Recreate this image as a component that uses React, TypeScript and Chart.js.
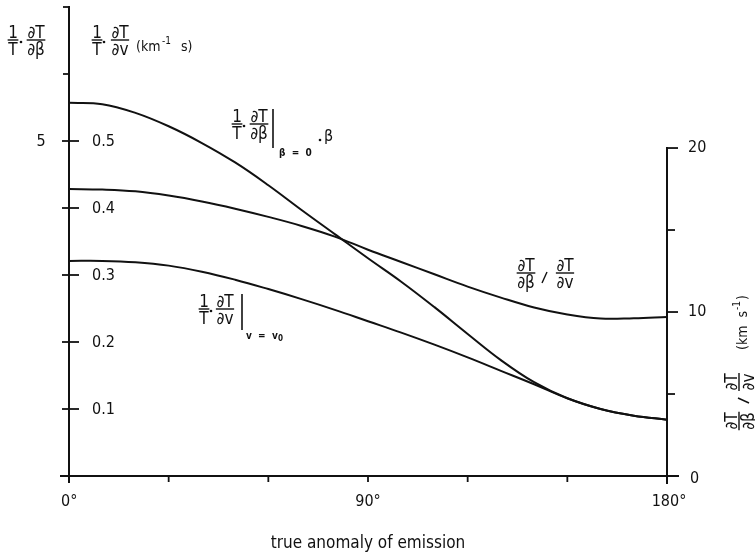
import React, { useEffect, useRef } from "react";
import { Chart, registerables } from "chart.js";
Chart.register(...registerables);

// true anomaly of emission (degrees)
const anomalyDeg = [0, 10, 20, 30, 40, 50, 60, 70, 80, 90, 100, 110, 120, 130, 140, 150, 160, 170, 180];
// (1/T)(dT/dbeta)|beta=0 * beta  (outer left scale, 0..7)
const betaSensitivity = [5.57, 5.55, 5.42, 5.22, 4.97, 4.68, 4.34, 3.97, 3.61, 3.25, 2.9, 2.52, 2.12, 1.73, 1.4, 1.16, 1.0, 0.9, 0.84];
// (1/T)(dT/dv)|v=v0  (inner left scale, km^-1 s)
const velocitySensitivity = [0.321, 0.321, 0.319, 0.314, 0.305, 0.293, 0.279, 0.264, 0.248, 0.231, 0.214, 0.196, 0.177, 0.157, 0.137, 0.116, 0.1, 0.09, 0.084];
// (dT/dbeta)/(dT/dv)  (right scale, km s^-1)
const ratioSeries = [17.5, 17.47, 17.36, 17.1, 16.74, 16.3, 15.8, 15.25, 14.6, 13.8, 13.05, 12.3, 11.55, 10.88, 10.28, 9.85, 9.6, 9.62, 9.7];

const xTicks = [0, 30, 60, 90, 120, 150, 180];
const xTickLabels: Record<number, string> = { 0: "0°", 90: "90°", 180: "180°" };
const leftInnerTicks = [0.1, 0.2, 0.3, 0.4, 0.5];
const leftBracketTicks = [0.6, 0.7];
const leftOuterTicks = [5];
const rightTicks = [0, 5, 10, 15, 20];
const rightLabelTicks = [0, 10, 20];

const FONT = '"DejaVu Sans Condensed", "DejaVu Sans", sans-serif';
const INK = "#111";
const FS = 17;

function frac(ctx: CanvasRenderingContext2D, num: string, den: string, cx: number, ly: number, size: number) {
  ctx.font = `${size}px ${FONT}`;
  const w = Math.max(ctx.measureText(num).width, ctx.measureText(den).width) + 1;
  ctx.textAlign = "center";
  ctx.textBaseline = "alphabetic";
  ctx.fillText(num, cx, ly - 2.5);
  ctx.fillText(den, cx, ly + 2 + size * 0.74);
  ctx.lineWidth = 1.4;
  ctx.beginPath();
  ctx.moveTo(cx - w / 2, ly);
  ctx.lineTo(cx + w / 2, ly);
  ctx.stroke();
}

function dot(ctx: CanvasRenderingContext2D, x: number, y: number) {
  ctx.beginPath();
  ctx.arc(x, y, 1.3, 0, Math.PI * 2);
  ctx.fill();
}

function line(ctx: CanvasRenderingContext2D, x1: number, y1: number, x2: number, y2: number) {
  ctx.beginPath();
  ctx.moveTo(x1, y1);
  ctx.lineTo(x2, y2);
  ctx.stroke();
}

const axesPlugin = {
  id: "paperAxes",
  afterDraw(chart: any) {
    const ctx: CanvasRenderingContext2D = chart.ctx;
    const sx = chart.scales.x;
    const yIn = chart.scales.yIn;
    const yOut = chart.scales.yOut;
    const yR = chart.scales.yR;
    const xL = sx.getPixelForValue(0);
    const xR = sx.getPixelForValue(180);
    const yB = yIn.getPixelForValue(0);
    ctx.save();
    ctx.strokeStyle = INK;
    ctx.fillStyle = INK;
    ctx.lineCap = "butt";

    // axis lines
    ctx.lineWidth = 2;
    line(ctx, xL, yIn.getPixelForValue(0.7) - 1, xL, yB + 7);
    line(ctx, xL - 9, yB, xR + 12, yB);
    line(ctx, xR, yR.getPixelForValue(20) - 1, xR, yB + 8);

    // left axis ticks
    ctx.lineWidth = 1.8;
    leftBracketTicks.forEach((v) => {
      const y = yIn.getPixelForValue(v);
      line(ctx, xL - 6, y, xL, y);
    });
    leftInnerTicks.forEach((v) => {
      const y = yIn.getPixelForValue(v);
      line(ctx, xL - 7, y, xL + 10, y);
    });
    ctx.font = `16px ${FONT}`;
    ctx.textAlign = "left";
    ctx.textBaseline = "middle";
    leftInnerTicks.forEach((v) => {
      const y = yIn.getPixelForValue(v);
      ctx.fillText(v.toFixed(1), xL + 23, y + 1);
    });
    ctx.textAlign = "center";
    leftOuterTicks.forEach((v) => {
      const y = yOut.getPixelForValue(v);
      ctx.fillText(String(v), 41, y + 1);
    });

    // x ticks
    xTicks.forEach((d) => {
      const x = sx.getPixelForValue(d);
      line(ctx, x, yB, x, yB + 6);
      const lab = xTickLabels[d];
      if (lab) {
        ctx.textAlign = d === 0 ? "left" : "center";
        ctx.fillText(lab, d === 0 ? x - 8 : d === 180 ? x + 2 : x, yB + 26);
      }
    });

    // right ticks
    rightTicks.forEach((v) => {
      const y = yR.getPixelForValue(v);
      if (v === 0) line(ctx, xR - 7, y, xR + 10, y);
      else line(ctx, xR, y, xR + (v % 10 === 0 ? 11 : 8), y);
    });
    ctx.textAlign = "left";
    rightLabelTicks.forEach((v) => {
      const y = yR.getPixelForValue(v);
      ctx.fillText(String(v), xR + (v === 0 ? 23 : 21), y + (v === 0 ? 3 : 0));
    });

    // x title
    ctx.font = `17px ${FONT}`;
    ctx.textAlign = "center";
    ctx.fillText("true anomaly of emission", 368, 544);

    // left titles
    frac(ctx, "1", "T", 13, 40, FS);
    dot(ctx, 21, 42);
    frac(ctx, "∂T", "∂β", 36, 40, FS);
    frac(ctx, "1", "T", 97, 40, FS);
    dot(ctx, 104, 42);
    frac(ctx, "∂T", "∂v", 120, 40, FS);
    ctx.font = `14px ${FONT}`;
    ctx.textAlign = "left";
    ctx.textBaseline = "middle";
    ctx.fillText("(km", 136, 47);
    ctx.font = `10px ${FONT}`;
    ctx.fillText("-1", 162, 41);
    ctx.font = `14px ${FONT}`;
    ctx.fillText("s)", 181, 47);

    // annotation A
    frac(ctx, "1", "T", 237, 124, FS);
    dot(ctx, 244, 126);
    frac(ctx, "∂T", "∂β", 259, 124, FS);
    ctx.lineWidth = 1.6;
    line(ctx, 273, 109, 273, 148);
    ctx.font = `bold 10px ${FONT}`;
    ctx.textAlign = "left";
    ctx.textBaseline = "middle";
    ctx.fillText("β  =  0", 279, 153);
    dot(ctx, 320, 140);
    ctx.font = `16px ${FONT}`;
    ctx.fillText("β", 324, 137);

    // annotation B
    frac(ctx, "∂T", "∂β", 526, 273, FS);
    ctx.lineWidth = 1.4;
    line(ctx, 542, 283, 547, 272);
    frac(ctx, "∂T", "∂v", 565, 273, FS);

    // annotation C
    frac(ctx, "1", "T", 204, 309, FS);
    dot(ctx, 211, 311);
    frac(ctx, "∂T", "∂v", 225, 309, FS);
    ctx.lineWidth = 1.6;
    line(ctx, 242, 294, 242, 330);
    ctx.font = `bold 10px ${FONT}`;
    ctx.textAlign = "left";
    ctx.textBaseline = "middle";
    ctx.fillText("v  =  v", 246, 336);
    ctx.font = `bold 8px ${FONT}`;
    ctx.fillText("0", 278, 339);

    // right rotated title
    ctx.save();
    ctx.translate(739, 434);
    ctx.rotate(-Math.PI / 2);
    frac(ctx, "∂T", "∂β", 13, 0, FS);
    ctx.lineWidth = 1.4;
    line(ctx, 31, 10, 36, -1);
    frac(ctx, "∂T", "∂v", 52, 0, FS);
    ctx.font = `14px ${FONT}`;
    ctx.textAlign = "left";
    ctx.textBaseline = "middle";
    const base = "(km  s";
    ctx.fillText(base, 84, 4);
    const w1 = ctx.measureText(base).width;
    ctx.font = `10px ${FONT}`;
    ctx.fillText("-1", 84 + w1 + 1, -2);
    const w2 = ctx.measureText("-1").width;
    ctx.font = `14px ${FONT}`;
    ctx.fillText(")", 84 + w1 + w2 + 2, 4);
    ctx.restore();

    ctx.restore();
  },
};

export default function App() {
  const ref = useRef<HTMLCanvasElement | null>(null);
  useEffect(() => {
    if (!ref.current) return;
    const ds = (data: number[], axis: string) => ({
      data: anomalyDeg.map((d, i) => ({ x: d, y: data[i] })),
      yAxisID: axis,
      borderColor: INK,
      borderWidth: 2,
      pointRadius: 0,
      fill: false,
      tension: 0.4,
    });
    const chart = new Chart(ref.current, {
      type: "line",
      data: {
        datasets: [
          ds(betaSensitivity, "yOut"),
          ds(velocitySensitivity, "yIn"),
          ds(ratioSeries, "yR"),
        ],
      },
      options: {
        animation: false,
        responsive: false,
        devicePixelRatio: 1,
        layout: { padding: { left: 69, right: 88, top: 7, bottom: 78 } },
        plugins: { legend: { display: false }, tooltip: { enabled: false } },
        scales: {
          x: { type: "linear", min: 0, max: 180, display: false },
          yIn: { type: "linear", min: 0, max: 0.7, display: false },
          yOut: { type: "linear", min: 0, max: 7, display: false },
          yR: { type: "linear", min: 0, max: 28.6, display: false },
        },
      },
      plugins: [axesPlugin],
    });
    return () => chart.destroy();
  }, []);
  return (
    <div style={{ position: "fixed", left: 0, top: 0, width: 755, height: 554, background: "#fff" }}>
      <canvas ref={ref} width={755} height={554} />
    </div>
  );
}
